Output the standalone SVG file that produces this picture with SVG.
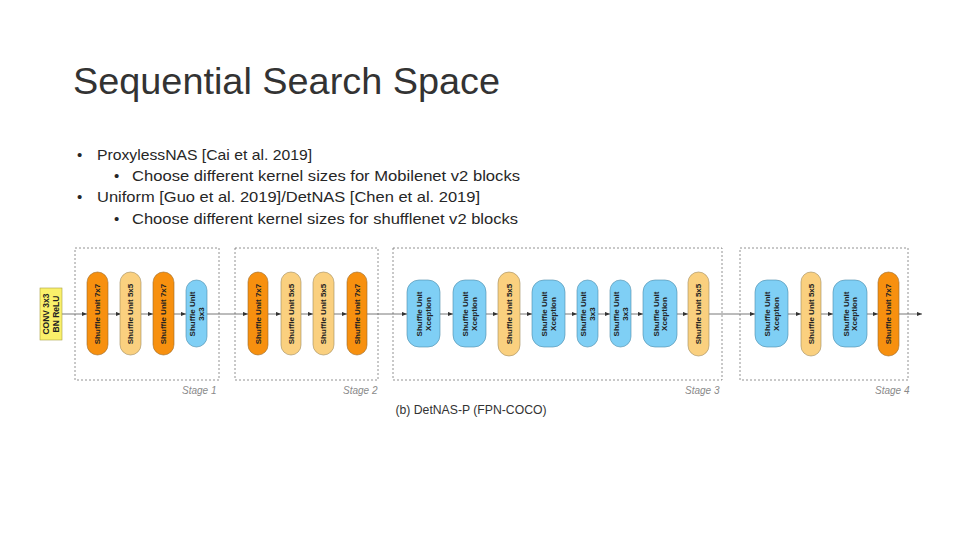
<svg xmlns="http://www.w3.org/2000/svg" width="960" height="540" viewBox="0 0 960 540">
<style>
.title{font-family:"Liberation Sans",Arial,sans-serif;font-size:37px;fill:#333}
.bul{font-family:"Liberation Sans",Arial,sans-serif;font-size:15px;fill:#262626}
.stage{fill:none;stroke:#777;stroke-width:0.8;stroke-dasharray:2,2}
.slab{font-family:"Liberation Sans",Arial,sans-serif;font-size:10px;font-style:italic;fill:#8a8a8a}
.o{fill:#F7900F;stroke:#9a6a2a;stroke-width:0.6}
.l{fill:#FAD07F;stroke:#a08a5a;stroke-width:0.6}
.b{fill:#7FCFF5;stroke:#4a8aa8;stroke-width:0.6}
.y{fill:#FAF06A;stroke:#a8a040;stroke-width:0.6}
.nt{font-family:"Liberation Sans",Arial,sans-serif;font-size:8px;font-weight:bold;fill:#222;text-anchor:middle}
.ct{font-family:"Liberation Sans",Arial,sans-serif;font-size:8.5px;font-weight:bold;fill:#222;text-anchor:middle}
.conn{stroke:#555;stroke-width:0.8;fill:none;marker-end:url(#ah)}
.cap{font-family:"Liberation Sans",Arial,sans-serif;font-size:12px;fill:#333}
</style>
<defs>
<marker id="ah" viewBox="0 0 6 6" refX="6" refY="3" markerWidth="5" markerHeight="5" markerUnits="userSpaceOnUse" orient="auto">
<path d="M0,0.5 L6,3 L0,5.5 Z" fill="#333"/>
</marker>
</defs>
<rect width="960" height="540" fill="#fff"/>
<text class="title" x="73" y="94" textLength="427" lengthAdjust="spacingAndGlyphs">Sequential Search Space</text>
<g id="bullets">
<text class="bul" x="77" y="160">•</text>
<text class="bul" x="97" y="160" textLength="215" lengthAdjust="spacingAndGlyphs">ProxylessNAS [Cai et al. 2019]</text>
<text class="bul" x="114" y="181">•</text>
<text class="bul" x="132" y="181" textLength="388" lengthAdjust="spacingAndGlyphs">Choose different kernel sizes for Mobilenet v2 blocks</text>
<text class="bul" x="77" y="202">•</text>
<text class="bul" x="97" y="202" textLength="383" lengthAdjust="spacingAndGlyphs">Uniform [Guo et al. 2019]/DetNAS [Chen et al. 2019]</text>
<text class="bul" x="114" y="224">•</text>
<text class="bul" x="132" y="224" textLength="386" lengthAdjust="spacingAndGlyphs">Choose different kernel sizes for shufflenet v2 blocks</text>
</g>
<g id="stages">
<rect class="stage" x="75" y="248" width="144" height="132"/>
<rect class="stage" x="235" y="248" width="143" height="132"/>
<rect class="stage" x="393" y="248" width="329" height="132"/>
<rect class="stage" x="740" y="248" width="168" height="132"/>
<text class="slab" x="182" y="394">Stage 1</text>
<text class="slab" x="343" y="394">Stage 2</text>
<text class="slab" x="685" y="394">Stage 3</text>
<text class="slab" x="875" y="394">Stage 4</text>
</g>
<g id="connectors">
<path class="conn" d="M62,314 H87"/>
<path class="conn" d="M108,314 H121"/>
<path class="conn" d="M141,314 H153"/>
<path class="conn" d="M173,314 H186"/>
<path class="conn" d="M207,314 H248"/>
<path class="conn" d="M268,314 H281"/>
<path class="conn" d="M301,314 H313"/>
<path class="conn" d="M334,314 H347"/>
<path class="conn" d="M367,314 H407"/>
<path class="conn" d="M440,314 H453"/>
<path class="conn" d="M486,314 H498"/>
<path class="conn" d="M520,314 H532"/>
<path class="conn" d="M565,314 H577"/>
<path class="conn" d="M598,314 H610"/>
<path class="conn" d="M631,314 H643"/>
<path class="conn" d="M677,314 H688"/>
<path class="conn" d="M709,314 H755"/>
<path class="conn" d="M788,314 H801"/>
<path class="conn" d="M821,314 H833"/>
<path class="conn" d="M867,314 H878"/>
<path class="conn" d="M899,314 H922"/>
</g>
<g id="conv">
<rect class="y" x="40" y="288" width="22" height="52"/>
<text class="ct" transform="translate(51,314) rotate(-90)"><tspan x="0" y="-2">CONV 3x3</tspan><tspan x="0" y="7.5">BN ReLU</tspan></text>
</g>
<g id="s1n1"><rect class="o" x="87" y="272" width="21" height="83" rx="10.5"/><text class="nt" transform="translate(97.5,314) rotate(-90)" y="2.8">Shuffle Unit 7x7</text></g>
<g id="s1n2"><rect class="l" x="120" y="272" width="21" height="83" rx="10.5"/><text class="nt" transform="translate(130.5,314) rotate(-90)" y="2.8">Shuffle Unit 5x5</text></g>
<g id="s1n3"><rect class="o" x="153" y="272" width="21" height="83" rx="10.5"/><text class="nt" transform="translate(163.5,314) rotate(-90)" y="2.8">Shuffle Unit 7x7</text></g>
<g id="s1n4"><rect class="b" x="186" y="280" width="21" height="67" rx="10.5"/><text class="nt" transform="translate(196.5,314) rotate(-90)"><tspan x="0" y="-1.5">Shuffle Unit</tspan><tspan x="0" y="7">3x3</tspan></text></g>
<g id="s2n1"><rect class="o" x="248" y="272" width="20" height="83" rx="10"/><text class="nt" transform="translate(258,314) rotate(-90)" y="2.8">Shuffle Unit 7x7</text></g>
<g id="s2n2"><rect class="l" x="281" y="272" width="20" height="83" rx="10"/><text class="nt" transform="translate(291,314) rotate(-90)" y="2.8">Shuffle Unit 5x5</text></g>
<g id="s2n3"><rect class="l" x="313" y="272" width="21" height="83" rx="10.5"/><text class="nt" transform="translate(323.5,314) rotate(-90)" y="2.8">Shuffle Unit 5x5</text></g>
<g id="s2n4"><rect class="o" x="347" y="272" width="20" height="83" rx="10"/><text class="nt" transform="translate(357,314) rotate(-90)" y="2.8">Shuffle Unit 7x7</text></g>
<g id="s3n1"><rect class="b" x="407" y="280" width="33" height="67" rx="12"/><text class="nt" transform="translate(423.5,314) rotate(-90)"><tspan x="0" y="-1.5">Shuffle Unit</tspan><tspan x="0" y="7">Xception</tspan></text></g>
<g id="s3n2"><rect class="b" x="453" y="280" width="33" height="67" rx="12"/><text class="nt" transform="translate(469.5,314) rotate(-90)"><tspan x="0" y="-1.5">Shuffle Unit</tspan><tspan x="0" y="7">Xception</tspan></text></g>
<g id="s3n3"><rect class="l" x="498" y="272" width="22" height="84" rx="11"/><text class="nt" transform="translate(509,314) rotate(-90)" y="2.8">Shuffle Unit 5x5</text></g>
<g id="s3n4"><rect class="b" x="532" y="280" width="33" height="67" rx="12"/><text class="nt" transform="translate(548.5,314) rotate(-90)"><tspan x="0" y="-1.5">Shuffle Unit</tspan><tspan x="0" y="7">Xception</tspan></text></g>
<g id="s3n5"><rect class="b" x="577" y="280" width="21" height="67" rx="10.5"/><text class="nt" transform="translate(587.5,314) rotate(-90)"><tspan x="0" y="-1.5">Shuffle Unit</tspan><tspan x="0" y="7">3x3</tspan></text></g>
<g id="s3n6"><rect class="b" x="610" y="280" width="21" height="67" rx="10.5"/><text class="nt" transform="translate(620.5,314) rotate(-90)"><tspan x="0" y="-1.5">Shuffle Unit</tspan><tspan x="0" y="7">3x3</tspan></text></g>
<g id="s3n7"><rect class="b" x="643" y="280" width="34" height="67" rx="12"/><text class="nt" transform="translate(660,314) rotate(-90)"><tspan x="0" y="-1.5">Shuffle Unit</tspan><tspan x="0" y="7">Xception</tspan></text></g>
<g id="s3n8"><rect class="l" x="688" y="272" width="21" height="84" rx="10.5"/><text class="nt" transform="translate(698.5,314) rotate(-90)" y="2.8">Shuffle Unit 5x5</text></g>
<g id="s4n1"><rect class="b" x="755" y="280" width="33" height="67" rx="12"/><text class="nt" transform="translate(771.5,314) rotate(-90)"><tspan x="0" y="-1.5">Shuffle Unit</tspan><tspan x="0" y="7">Xception</tspan></text></g>
<g id="s4n2"><rect class="l" x="801" y="272" width="20" height="84" rx="10"/><text class="nt" transform="translate(811,314) rotate(-90)" y="2.8">Shuffle Unit 5x5</text></g>
<g id="s4n3"><rect class="b" x="833" y="280" width="34" height="67" rx="12"/><text class="nt" transform="translate(850,314) rotate(-90)"><tspan x="0" y="-1.5">Shuffle Unit</tspan><tspan x="0" y="7">Xception</tspan></text></g>
<g id="s4n4"><rect class="o" x="878" y="272" width="21" height="84" rx="10.5"/><text class="nt" transform="translate(888.5,314) rotate(-90)" y="2.8">Shuffle Unit 7x7</text></g>
<text class="cap" x="471" y="414" text-anchor="middle" textLength="151" lengthAdjust="spacingAndGlyphs">(b) DetNAS-P (FPN-COCO)</text>
</svg>
